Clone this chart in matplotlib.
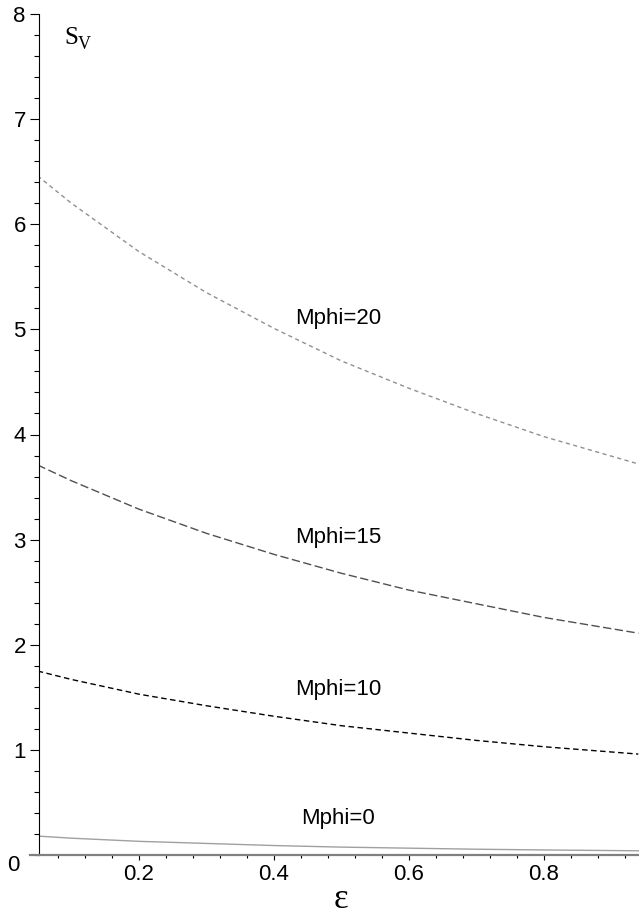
import matplotlib
matplotlib.use("Agg")
import matplotlib.pyplot as plt
from matplotlib.ticker import MultipleLocator

# values
eps = [0.05, 0.1, 0.2, 0.3, 0.4, 0.5, 0.6, 0.7, 0.8, 0.94]
sv_m0 = [0.18, 0.16, 0.13, 0.11, 0.09, 0.075, 0.065, 0.055, 0.048, 0.04]
sv_m10 = [1.75, 1.67, 1.53, 1.42, 1.32, 1.23, 1.16, 1.09, 1.03, 0.96]
sv_m15 = [3.71, 3.56, 3.29, 3.06, 2.86, 2.68, 2.52, 2.39, 2.26, 2.11]
sv_m20 = [6.46, 6.20, 5.74, 5.35, 5.01, 4.70, 4.44, 4.20, 3.98, 3.72]

labels = ["Mphi=0", "Mphi=10", "Mphi=15", "Mphi=20"]
label_y = [0.35, 1.57, 3.02, 5.10]

fig = plt.figure(figsize=(6.39, 9.15), dpi=100)
ax = fig.add_axes([39 / 639, 60 / 915, 600 / 639, 841 / 915])

ax.plot(eps, sv_m0, color="#a0a0a0", lw=1.0)
ax.plot(eps, sv_m10, color="black", lw=1.0, dashes=(4, 2.5))
ax.plot(eps, sv_m15, color="#505050", lw=1.0, dashes=(6, 2.5))
ax.plot(eps, sv_m20, color="#909090", lw=1.0, dashes=(3, 2.5))

for txt, yy in zip(labels, label_y):
    ax.text(0.495, yy, txt, ha="center", va="center", fontsize=16,
            family="Liberation Sans")

ax.set_xlim(0.052, 0.941)
ax.set_ylim(0, 8)

ax.set_xticks([0.2, 0.4, 0.6, 0.8])
ax.set_xticklabels(["0.2", "0.4", "0.6", "0.8"])
ax.xaxis.set_minor_locator(MultipleLocator(0.04))
ax.set_yticks(range(1, 9))
ax.set_yticklabels([str(i) for i in range(1, 9)])
ax.yaxis.set_minor_locator(MultipleLocator(0.2))

for lab in ax.get_xticklabels() + ax.get_yticklabels():
    lab.set_family("Liberation Sans")
    lab.set_fontsize(16)

ax.tick_params(axis="y", which="major", direction="out", length=6.5, width=0.8, pad=3)
ax.tick_params(axis="y", which="minor", direction="out", length=3.6, width=0.8)
ax.tick_params(axis="x", which="major", direction="out", length=3.5, width=0.8, pad=3)
ax.tick_params(axis="x", which="minor", direction="out", length=2.5, width=0.8)

for s in ["top", "right", "bottom"]:
    ax.spines[s].set_visible(False)
ax.spines["left"].set_linewidth(0.8)
ax.plot([-9 / 600, 1], [0, 0], transform=ax.transAxes, color="#808080",
        lw=1.6, clip_on=False, zorder=3)

ax.text(-0.033, -0.013, "0", transform=ax.transAxes, ha="right", va="center",
        fontsize=16, family="Liberation Sans")

# axis labels
ax.text(25 / 600, 0.964, "S", transform=ax.transAxes, ha="left", va="baseline",
        fontsize=18, family="Liberation Serif")
ax.text(39 / 600, 0.958, "V", transform=ax.transAxes, ha="left", va="baseline",
        fontsize=13, family="Liberation Serif")
fig.text(341 / 639, 15 / 915, "\u03b5", ha="center", va="center", fontsize=25,
         family="Liberation Serif")

fig.savefig("out.png", dpi=100)
